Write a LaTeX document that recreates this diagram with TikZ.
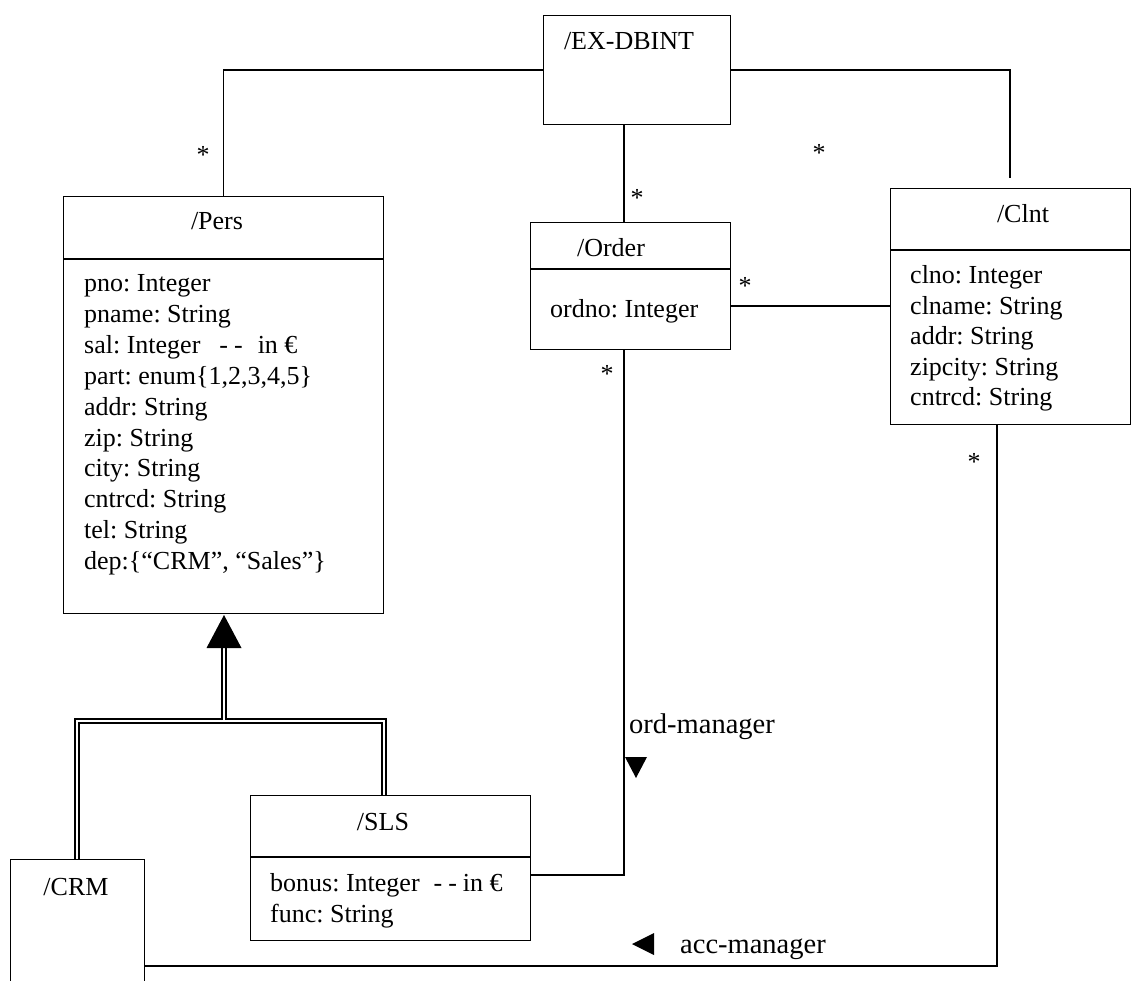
\documentclass[tikz,border=0pt]{standalone}
\usepackage{fontspec}
\setmainfont{Liberation Serif}
\frenchspacing
\begin{document}
\begin{tikzpicture}[x=1pt,y=-1pt,font=\fontsize{26}{31}\selectfont,
  umlbox/.style={draw,line width=1.2pt,inner sep=0pt,anchor=north west},
  txt/.style={inner sep=0pt,anchor=base west},
  ttl/.style={inner sep=0pt,anchor=base},
  mult/.style={inner sep=0pt,anchor=base},
  conn/.style={line width=1.2pt},
  gen/.style={double,double distance=2.8pt,line width=1.4pt},
  lbl/.style={inner sep=0pt,anchor=base west,font=\fontsize{28.5}{34}\selectfont}]
\useasboundingbox (0,0) rectangle (1132,981);
\clip (0,0) rectangle (1132,981);
% boxes
\node[umlbox,minimum width=187pt,minimum height=109pt] (EX) at (543,15) {};
\node[umlbox,minimum width=320pt,minimum height=417pt] (Pers) at (63,196) {};
\node[umlbox,minimum width=200pt,minimum height=127pt] (Order) at (530,222) {};
\node[umlbox,minimum width=240pt,minimum height=236pt] (Clnt) at (890,188) {};
\node[umlbox,minimum width=280pt,minimum height=145pt] (SLS) at (250,795) {};
\node[umlbox,minimum width=134pt,minimum height=170pt] (CRM) at (10,859) {};
% helper coordinates
\coordinate (yp) at (0,259);
\coordinate (yo) at (0,269);
\coordinate (yc) at (0,250);
\coordinate (ys) at (0,857);
\coordinate (y70) at (0,70);
\coordinate (y306) at (0,306);
\coordinate (y875) at (0,875);
\coordinate (y966) at (0,966);
\coordinate (xo) at (624,0);
\coordinate (xc) at (997,0);
\coordinate (clntend) at (1010,178);
\coordinate (gl) at (77,721);
\coordinate (gr) at (384,721);
\coordinate (gm) at (224,720);
\coordinate (gt) at (224,647);
% dividers
\draw[conn] (Pers.west |- yp) -- (Pers.east |- yp);
\draw[conn] (Order.west |- yo) -- (Order.east |- yo);
\draw[conn] (Clnt.west |- yc) -- (Clnt.east |- yc);
\draw[conn] (SLS.west |- ys) -- (SLS.east |- ys);
% titles
\node[ttl] (EXt) at (629,50) {/EX-DBINT};
\node[ttl] (Perst) at (217,230) {/Pers};
\node[ttl] (Ordert) at (611,257) {/Order};
\node[ttl] (Clntt) at (1023,223) {/Clnt};
\node[ttl] (SLSt) at (383,830) {/SLS};
\node[ttl] (CRMt) at (76,895) {/CRM};
% attributes
\node[txt] (p1) at (84,292) {pno: Integer};
\node[txt] (p2) at (84,322.8) {pname: String};
\node[txt] (p3) at (84,353.6) {sal: Integer\hspace*{19pt}-\hspace*{6pt}-\hspace*{15pt}in €};
\node[txt] (p4) at (84,384.4) {part: enum\{1,2,3,4,5\}};
\node[txt] (p5) at (84,415.2) {addr: String};
\node[txt] (p6) at (84,446) {zip: String};
\node[txt] (p7) at (84,476.8) {city: String};
\node[txt] (p8) at (84,507.6) {cntrcd: String};
\node[txt] (p9) at (84,538.4) {tel: String};
\node[txt] (p10) at (84,569.2) {dep:\{“CRM”, “Sales”\}};
\node[txt] (o1) at (550,318) {ordno: Integer};
\node[txt] (c1) at (910,284) {clno: Integer};
\node[txt] (c2) at (910,314.4) {clname: String};
\node[txt] (c3) at (910,344.8) {addr: String};
\node[txt] (c4) at (910,375.2) {zipcity: String};
\node[txt] (c5) at (910,405.6) {cntrcd: String};
\node[txt] (s1) at (270,891) {bonus: Integer\hspace*{14pt}-\hspace*{6pt}-\hspace*{6pt}in €};
\node[txt] (s2) at (270,922) {func: String};
% associations
\draw[conn] (EX.west |- y70) -| (Pers.north);
\draw[conn] (EX.east |- y70) -| (clntend);
\draw[conn] (EX.south -| xo) -- (Order.north -| xo);
\draw[conn] (Order.east |- y306) -- (Clnt.west |- y306);
\draw[conn] (Order.south -| xo) |- (SLS.east |- y875);
\draw[conn] (Clnt.south -| xc) |- (CRM.east |- y966);
% multiplicities
\node[mult] (m1) at (203,164) {*};
\node[mult] (m2) at (819,162) {*};
\node[mult] (m3) at (637,207) {*};
\node[mult] (m4) at (745,295) {*};
\node[mult] (m5) at (607,382) {*};
\node[mult] (m6) at (974,470) {*};
% role labels
\node[lbl] (ordm) at (629,733) {ord-manager};
\node[lbl] (accm) at (680,953) {acc-manager};
\fill (625,757) -- (647,757) -- (636,778) -- cycle;
\fill (632,944) -- (654,933) -- (654,955) -- cycle;
% generalization
\draw[gen] (CRM.north -| gl) -- (gl) -- (gr) -- (SLS.north -| gr);
\draw[gen] (gm) -- (gt);
\fill (224,615) -- (241.5,648) -- (206.5,648) -- cycle;
\end{tikzpicture}
\end{document}
